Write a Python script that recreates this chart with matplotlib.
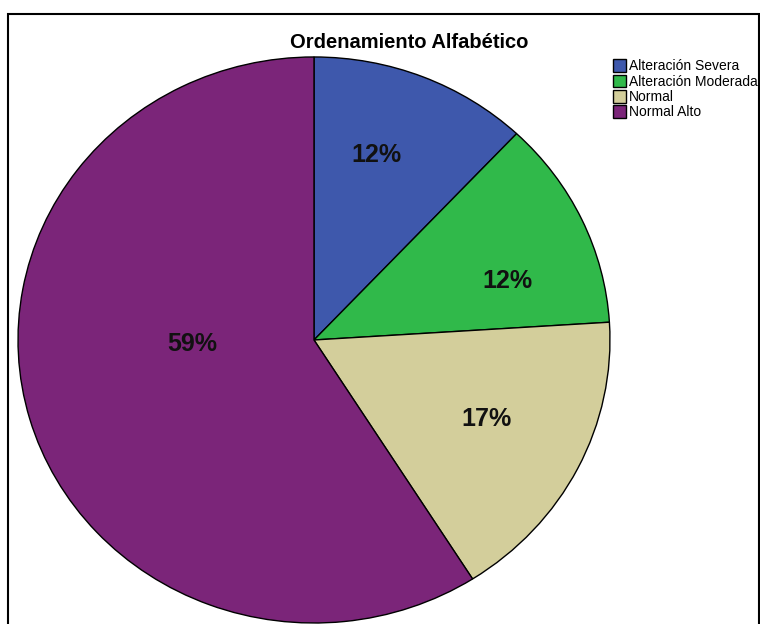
import matplotlib.pyplot as plt
from matplotlib.patches import Rectangle

plt.rcParams["font.family"] = ["Liberation Sans", "DejaVu Sans"]

categorias = ["Alteración Severa", "Alteración Moderada", "Normal", "Normal Alto"]
porcentajes = [12, 12, 17, 59]
colores = ["#3e58ac", "#30b94a", "#d3ce9b", "#7b2579"]
# posición de cada etiqueta dentro de su sector (coordenadas del pastel)
pos_etiquetas = [(0.21, 0.655), (0.655, 0.21), (0.584, -0.279), (-0.412, -0.015)]

fig = plt.figure(figsize=(7.6, 6.24), dpi=100)
ax = fig.add_axes([0.0237, 0.0016, 0.7789, 0.9071])

wedges, textos, autotextos = ax.pie(
    porcentajes,
    colors=colores,
    startangle=90,
    counterclock=False,
    autopct=lambda p: f"{p:.0f}%",
    wedgeprops=dict(edgecolor="black", linewidth=1),
    textprops=dict(fontsize=18, fontweight="bold", color="#111111"),
)
for t, p in zip(autotextos, pos_etiquetas):
    t.set_position(p)

ax.set_aspect("auto")
ax.set_xlim(-1, 1)
ax.set_ylim(-1, 1)

fig.text(0.539, 0.932, "Ordenamiento Alfabético", ha="center", va="center",
         fontsize=14.5, fontweight="bold")

fig.legend(wedges, categorias, loc="upper left", bbox_to_anchor=(0.806, 0.905),
           frameon=False, fontsize=10, handlelength=0.95, handleheight=1.0,
           handletextpad=0.25, labelspacing=0.1, borderaxespad=0, borderpad=0)

# marco exterior
fig.patches.append(Rectangle((8 / 760, -0.1), 751 / 760, 1.1 - 14 / 624,
                             transform=fig.transFigure, fill=False,
                             edgecolor="black", linewidth=1.5))

fig.savefig("out.png", dpi=100)
